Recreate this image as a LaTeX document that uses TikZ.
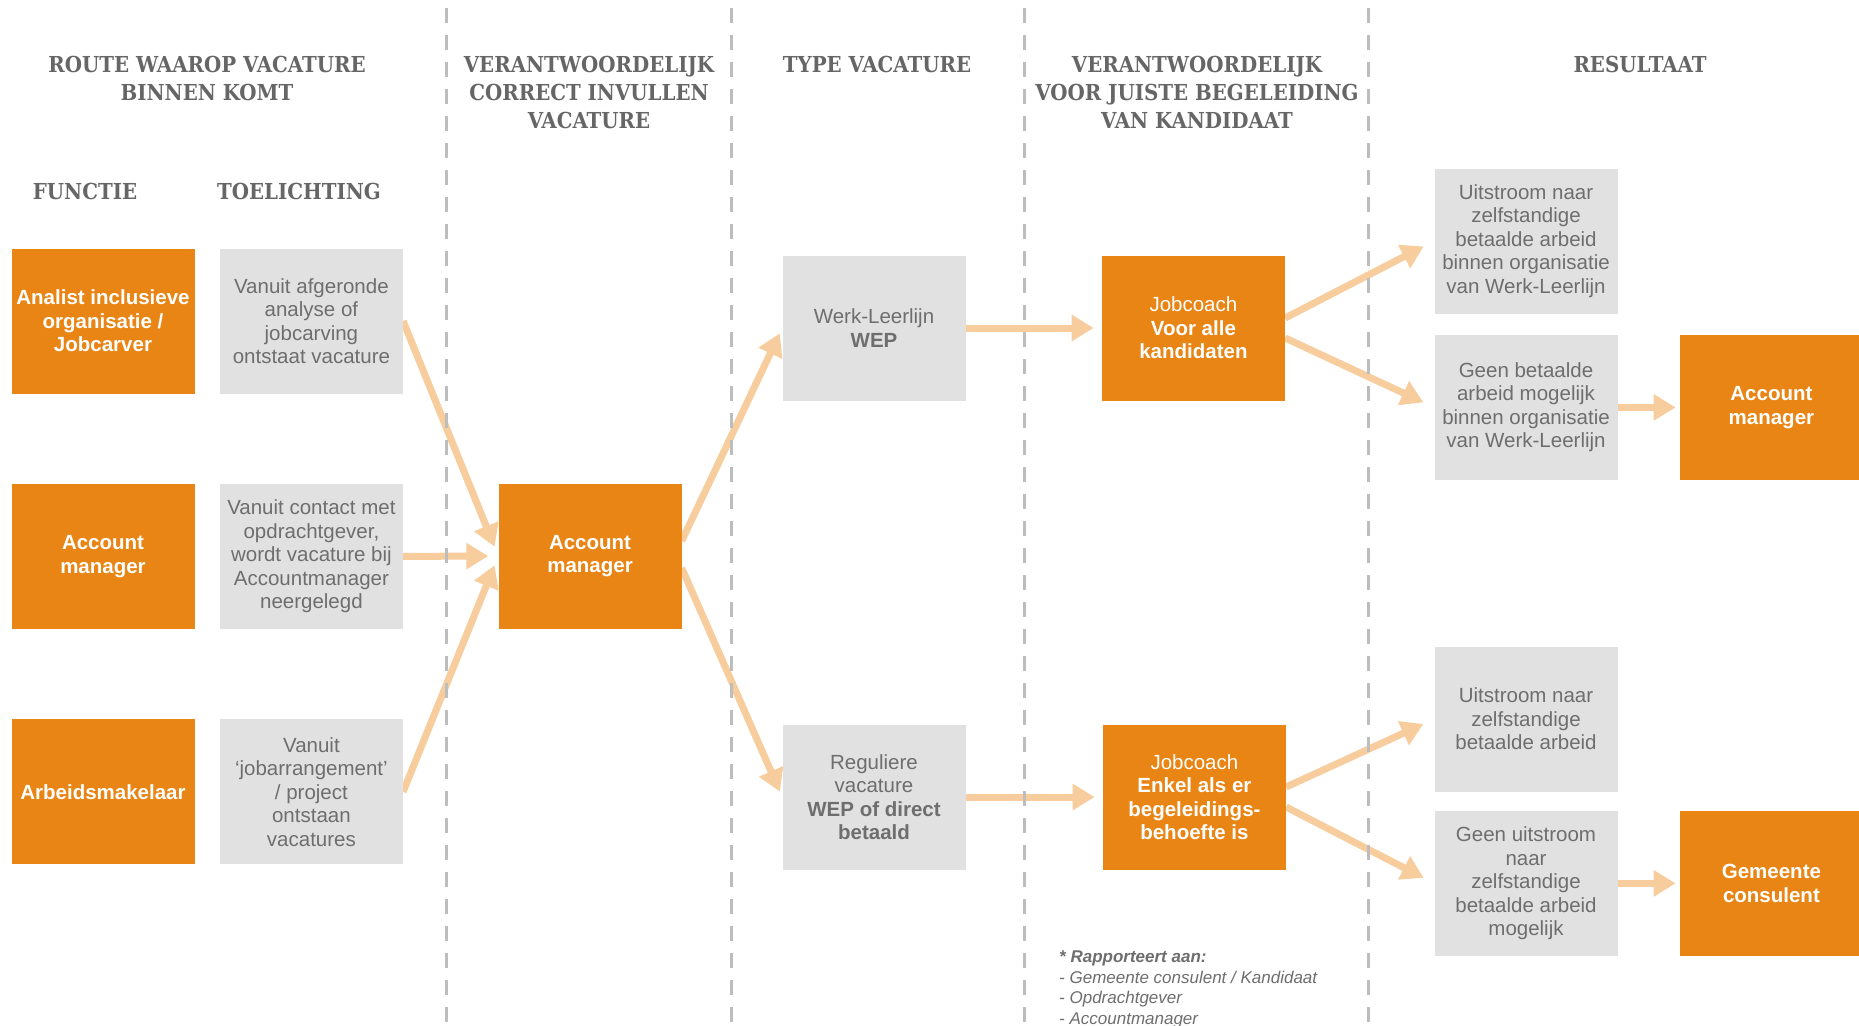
\documentclass[tikz,border=0pt]{standalone}
\usepackage{fontspec}
\setmainfont{Liberation Sans}
\newfontfamily\headfont{DejaVuSerifCondensed-Bold}[Extension=.ttf]
\usetikzlibrary{positioning, arrows.meta, backgrounds}

\definecolor{wlOrange}{HTML}{E88514}
\definecolor{wlGray}{HTML}{E1E1E1}
\definecolor{wlText}{HTML}{6E6E6E}
\definecolor{wlArrow}{HTML}{F8CD9E}
\definecolor{wlLine}{HTML}{BDBDBD}
\definecolor{wlHead}{HTML}{666666}

\begin{document}
\begin{tikzpicture}[
  x=1pt, y=-1pt,
  box/.style       = {rectangle, minimum width=183pt, minimum height=145pt, inner sep=0pt,
                      align=center, font=\fontsize{20.5}{23.5}\selectfont},
  orangebox/.style = {box, fill=wlOrange, text=white, font=\fontsize{20.5}{23.5}\selectfont\bfseries},
  graybox/.style   = {box, fill=wlGray, text=wlText},
  head/.style      = {anchor=north, align=center, inner sep=0pt, text=wlHead,
                      font=\headfont\fontsize{22}{28}\selectfont},
  flow/.style      = {draw=wlArrow, line width=7pt, -{Triangle[length=22pt, width=25pt]}},
  colsep/.style    = {draw=wlLine, line width=3pt, dash pattern=on 15pt off 12pt},
]
  \useasboundingbox (0,0) rectangle (1859,1025);

  % column headers
  \node[head] (hRoute)   at (207,56)  {ROUTE WAAROP VACATURE\\BINNEN KOMT};
  \node[head] (hInvul)   at (589,56)  {VERANTWOORDELIJK\\CORRECT INVULLEN\\VACATURE};
  \node[head] (hType)    at (877,56)  {TYPE VACATURE};
  \node[head] (hBegel)   at (1197,56) {VERANTWOORDELIJK\\VOOR JUISTE BEGELEIDING\\VAN KANDIDAAT};
  \node[head] (hResult)  at (1640,56) {RESULTAAT};
  \node[head] (hFunctie) at (85,183)  {FUNCTIE};
  \node[head] (hToel)    at (299,183) {TOELICHTING};

  % route
  \node[orangebox]                          (fAnalist)  at (103,321) {Analist inclusieve\\organisatie /\\Jobcarver};
  \node[orangebox, below=90pt of fAnalist]  (fAccount)  {Account\\manager};
  \node[orangebox, below=90pt of fAccount]  (fMakelaar) {Arbeidsmakelaar};
  \node[graybox, right=25pt of fAnalist]    (tAnalist)  {Vanuit afgeronde\\analyse of\\jobcarving\\ontstaat vacature};
  \node[graybox, right=25pt of fAccount]    (tAccount)  {Vanuit contact met\\opdrachtgever,\\wordt vacature bij\\Accountmanager\\neergelegd};
  \node[graybox, right=25pt of fMakelaar]   (tMakelaar) {Vanuit\\‘jobarrangement’\\/ project\\ontstaan\\vacatures};

  % invullen, type, begeleiding
  \node[orangebox] (am)  at (590,556) {Account\\manager};
  \node[graybox]   (wep) at (874,328) {Werk-Leerlijn\\\textbf{WEP}};
  \node[graybox]   (reg) at (874,797) {Reguliere\\vacature\\\textbf{WEP of direct}\\\textbf{betaald}};
  \node[orangebox, right=136pt of wep] (jcAll)  {{\mdseries Jobcoach}\\Voor alle\\kandidaten};
  \node[orangebox, right=137pt of reg] (jcNeed) {{\mdseries Jobcoach}\\Enkel als er\\begeleidings-\\behoefte is};

  % resultaat
  \node[graybox]                          (rUitWEP)   at (1526,241) {Uitstroom naar\\zelfstandige\\betaalde arbeid\\binnen organisatie\\van Werk-Leerlijn};
  \node[graybox, below=21pt of rUitWEP]   (rGeenWEP)  {Geen betaalde\\arbeid mogelijk\\binnen organisatie\\van Werk-Leerlijn};
  \node[graybox]                          (rUit)      at (1526,719) {Uitstroom naar\\zelfstandige\\betaalde arbeid};
  \node[graybox, below=19pt of rUit]      (rGeenUit)  {Geen uitstroom\\naar\\zelfstandige\\betaalde arbeid\\mogelijk};
  \node[orangebox, right=62pt of rGeenWEP] (oAccount)  {Account\\manager};
  \node[orangebox, right=62pt of rGeenUit] (oGemeente) {Gemeente\\consulent};

  \node[anchor=north west, align=left, inner sep=0pt, text=wlText,
        font=\fontsize{17}{20.5}\selectfont\itshape] (note) at (1059,951)
        {\textbf{* Rapporteert aan:}\\- Gemeente consulent / Kandidaat\\- Opdrachtgever\\- Accountmanager};

  \begin{scope}[on background layer]
    \fill[white] (0,0) rectangle (1859,1025);
    \draw[flow, shorten >=10pt] (tAnalist.east)  -- (am.west);
    \draw[flow, shorten >=10pt] (tAccount.east)  -- (am.west);
    \draw[flow, shorten >=10pt] (tMakelaar.east) -- (am.west);
    \draw[flow, shorten >=6pt] ([yshift=15pt]am.east)  -- (wep.west);
    \draw[flow, shorten >=6pt] ([yshift=-12pt]am.east) -- (reg.west);
    \draw[flow, shorten >=8pt] (wep.east) -- (jcAll.west);
    \draw[flow, shorten >=8pt] (reg.east) -- (jcNeed.west);
    \draw[flow, shorten >=12pt] ([yshift=10pt]jcAll.east)   -- (rUitWEP.west);
    \draw[flow, shorten >=12pt] ([yshift=-10pt]jcAll.east)  -- (rGeenWEP.west);
    \draw[flow, shorten >=12pt] ([yshift=10pt]jcNeed.east)  -- (rUit.west);
    \draw[flow, shorten >=12pt] ([yshift=-10pt]jcNeed.east) -- (rGeenUit.west);
    \draw[flow, shorten >=4pt] (rGeenWEP.east) -- (oAccount.west);
    \draw[flow, shorten >=4pt] (rGeenUit.east) -- (oGemeente.west);
    \foreach \x in {446,731,1024,1368}
      \draw[colsep] (\x,8) -- (\x,1025);
  \end{scope}
\end{tikzpicture}
\end{document}
